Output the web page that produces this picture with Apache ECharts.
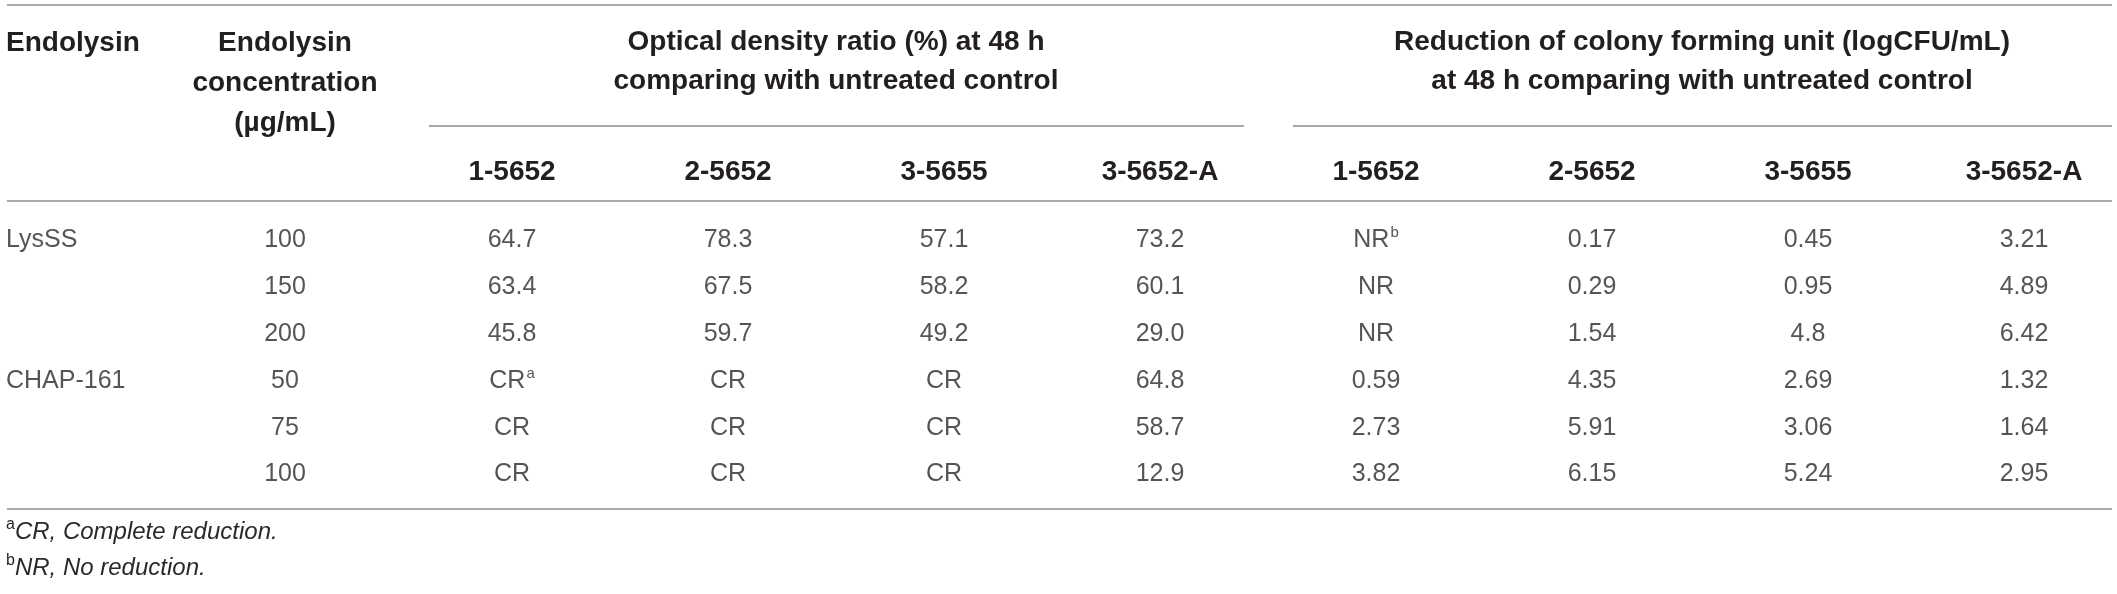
<!DOCTYPE html>
<html>
<head>
<meta charset="utf-8">
<script src="https://cdn.jsdelivr.net/npm/echarts@6/dist/echarts.min.js"></script>
<style>
  html, body { margin: 0; padding: 0; background: #fff; }
  #tabela { width: 2117px; height: 594px; }
</style>
</head>
<body>
<div id="tabela"></div>
<script>
// table values, one array per column (text as printed, ^ marks a footnote letter)
var endolysins = ['LysSS', '', '', 'CHAP-161', '', ''];
var concentracoes = ['100', '150', '200', '50', '75', '100'];
var cepas = ['1-5652', '2-5652', '3-5655', '3-5652-A'];
var od_1_5652 = ['64.7', '63.4', '45.8', 'CR^a', 'CR', 'CR'];
var od_2_5652 = ['78.3', '67.5', '59.7', 'CR', 'CR', 'CR'];
var od_3_5655 = ['57.1', '58.2', '49.2', 'CR', 'CR', 'CR'];
var od_3_5652A = ['73.2', '60.1', '29.0', '64.8', '58.7', '12.9'];
var cfu_1_5652 = ['NR^b', 'NR', 'NR', '0.59', '2.73', '3.82'];
var cfu_2_5652 = ['0.17', '0.29', '1.54', '4.35', '5.91', '6.15'];
var cfu_3_5655 = ['0.45', '0.95', '4.8', '2.69', '3.06', '5.24'];
var cfu_3_5652A = ['3.21', '4.89', '6.42', '1.32', '1.64', '2.95'];

var colunas = [endolysins, concentracoes,
  od_1_5652, od_2_5652, od_3_5655, od_3_5652A,
  cfu_1_5652, cfu_2_5652, cfu_3_5655, cfu_3_5652A];
var cabecalhos = ['', ''].concat(cepas, cepas);
var linhas = ['r1', 'r2', 'r3', 'r4', 'r5', 'r6'];

var fonte = "'Liberation Sans', Arial, Helvetica, sans-serif";
var corTexto = '#231f20';
var corLinha = '#8c8c8c';

function celula(txt) {
  if (txt === '') return '';
  var p = txt.split('^');
  return '{v|' + p[0] + '}' + (p[1] ? '{s|' + p[1] + '}' : '');
}

var series = [];
for (var c = 0; c < colunas.length; c++) {
  var dados = [];
  for (var r = 0; r < colunas[c].length; r++) {
    dados.push({ value: [c, r], texto: colunas[c][r] });
  }
  series.push({
    type: 'scatter',
    symbolSize: 1,
    itemStyle: { color: 'transparent' },
    silent: true,
    data: dados,
    label: {
      show: true,
      position: 'inside',
      align: c === 0 ? 'left' : 'center',
      offset: c === 0 ? [-74, 0] : (c === 1 ? [-11, 0] : [0, 0]),
      formatter: function (p) { return celula(p.data.texto); },
      rich: {
        v: { fontFamily: fonte, fontSize: 25, color: '#2a2a2a', lineHeight: 30 },
        s: { fontFamily: fonte, fontSize: 15, color: '#2a2a2a', verticalAlign: 'top', lineHeight: 16, padding: [0, 0, 0, 1] }
      }
    }
  });
}

var chart = echarts.init(document.getElementById('tabela'));
chart.setOption({
  animation: false,
  backgroundColor: '#fff',
  grid: { left: -28, right: -15, top: 217, bottom: 96, outerBoundsMode: 'none', containLabel: false },
  xAxis: {
    type: 'category',
    position: 'top',
    data: cabecalhos.map(function (h, i) { return 'c' + i; }),
    axisLine: { show: false },
    axisTick: { show: false },
    splitLine: { show: false },
    axisLabel: {
      interval: 0,
      margin: 31,
      fontFamily: fonte,
      fontSize: 28,
      fontWeight: 'bold',
      color: corTexto,
      formatter: function (v, i) { return cabecalhos[i]; }
    }
  },
  yAxis: {
    type: 'category',
    inverse: true,
    data: linhas,
    show: false
  },
  series: series,
  graphic: [
    { type: 'line', shape: { x1: 7, y1: 5, x2: 2112, y2: 5 }, style: { stroke: corLinha, lineWidth: 1.6 } },
    { type: 'line', shape: { x1: 429, y1: 126, x2: 1244, y2: 126 }, style: { stroke: corLinha, lineWidth: 1.6 } },
    { type: 'line', shape: { x1: 1293, y1: 126, x2: 2112, y2: 126 }, style: { stroke: corLinha, lineWidth: 1.6 } },
    { type: 'line', shape: { x1: 7, y1: 201, x2: 2112, y2: 201 }, style: { stroke: corLinha, lineWidth: 1.6 } },
    { type: 'line', shape: { x1: 7, y1: 509, x2: 2112, y2: 509 }, style: { stroke: corLinha, lineWidth: 1.6 } },
    {
      type: 'text', x: 6, y: 23,
      style: { text: 'Endolysin', fontFamily: fonte, fontSize: 28, fontWeight: 'bold', fill: corTexto, align: 'left', verticalAlign: 'top', lineHeight: 40 }
    },
    {
      type: 'text', x: 285, y: 23,
      style: { text: 'Endolysin\nconcentration\n(\u00b5g/mL)', fontFamily: fonte, fontSize: 28, fontWeight: 'bold', fill: corTexto, align: 'center', verticalAlign: 'top', lineHeight: 40 }
    },
    {
      type: 'text', x: 836, y: 23,
      style: { text: 'Optical density ratio (%) at 48 h\ncomparing with untreated control', fontFamily: fonte, fontSize: 28, fontWeight: 'bold', fill: corTexto, align: 'center', verticalAlign: 'top', lineHeight: 39 }
    },
    {
      type: 'text', x: 1702, y: 23,
      style: { text: 'Reduction of colony forming unit (logCFU/mL)\nat 48 h comparing with untreated control', fontFamily: fonte, fontSize: 28, fontWeight: 'bold', fill: corTexto, align: 'center', verticalAlign: 'top', lineHeight: 39 }
    },
    {
      type: 'text', x: 6, y: 532,
      style: {
        text: '{s|a}{i|CR, Complete reduction.}', align: 'left', verticalAlign: 'middle',
        rich: {
          s: { fontFamily: fonte, fontSize: 16, fill: corTexto, verticalAlign: 'top', lineHeight: 16 },
          i: { fontFamily: fonte, fontSize: 24, fontStyle: 'italic', fill: '#2a2a2a', lineHeight: 30 }
        }
      }
    },
    {
      type: 'text', x: 6, y: 568,
      style: {
        text: '{s|b}{i|NR, No reduction.}', align: 'left', verticalAlign: 'middle',
        rich: {
          s: { fontFamily: fonte, fontSize: 16, fill: corTexto, verticalAlign: 'top', lineHeight: 16 },
          i: { fontFamily: fonte, fontSize: 24, fontStyle: 'italic', fill: '#2a2a2a', lineHeight: 30 }
        }
      }
    }
  ]
});
</script>
</body>
</html>
